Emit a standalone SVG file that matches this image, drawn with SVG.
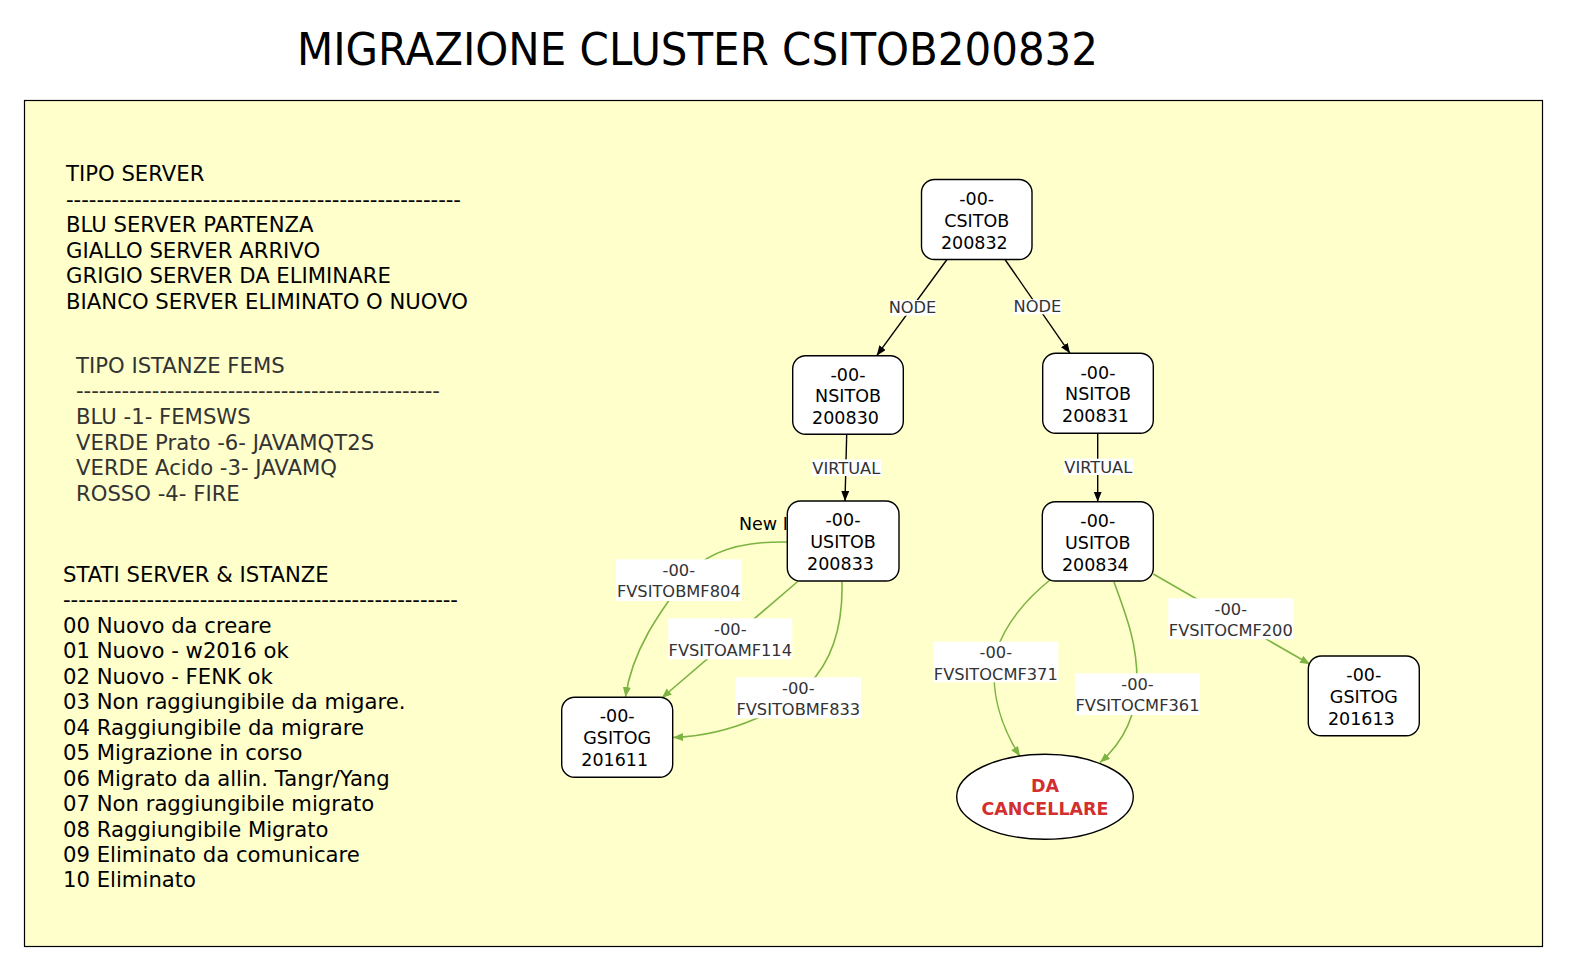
<svg xmlns="http://www.w3.org/2000/svg" width="1572" height="973" viewBox="0 0 1572 973">
<style>
text{font-family:"DejaVu Sans","Liberation Sans",sans-serif}
.leg{font-size:21.2px;fill:#000}
.leg2{font-size:21.2px;fill:#333}
.nt{font-size:17.5px;fill:#000;text-anchor:middle}
.el{font-size:16.25px;fill:#333;text-anchor:middle}
.node{fill:#fff;stroke:#000;stroke-width:1.4}
.lbg{fill:#fff;stroke:none}
.eb{fill:none;stroke:#000;stroke-width:1.4}
.eg{fill:none;stroke:#7cb342;stroke-width:1.6}
</style>
<defs>
<marker id="ab" markerUnits="userSpaceOnUse" markerWidth="12" markerHeight="10" refX="10" refY="4" orient="auto"><path d="M0,0 L10,4 L0,8 z" fill="#000"/></marker>
<marker id="ag" markerUnits="userSpaceOnUse" markerWidth="12" markerHeight="10" refX="10" refY="4" orient="auto"><path d="M0,0 L10,4 L0,8 z" fill="#7cb342"/></marker>
</defs>
<rect x="0" y="0" width="1572" height="973" fill="#fff"/>
<text x="297" y="65" font-size="45" textLength="801" lengthAdjust="spacingAndGlyphs">MIGRAZIONE CLUSTER CSITOB200832</text>
<rect id="cluster" x="24.5" y="100.5" width="1518" height="846" fill="#ffffcc" stroke="#000" stroke-width="1.2"/>
<g id="legend">
<text class="leg" x="66" y="181">TIPO SERVER</text>
<text class="leg" x="66" y="206.5" textLength="395" lengthAdjust="spacing">----------------------------------------------------</text>
<text class="leg" x="66" y="232">BLU SERVER PARTENZA</text>
<text class="leg" x="66" y="257.5">GIALLO SERVER ARRIVO</text>
<text class="leg" x="66" y="283">GRIGIO SERVER DA ELIMINARE</text>
<text class="leg" x="66" y="308.5">BIANCO SERVER ELIMINATO O NUOVO</text>
<text class="leg2" x="76" y="372.5">TIPO ISTANZE FEMS</text>
<text class="leg2" x="76" y="398" textLength="364" lengthAdjust="spacing">------------------------------------------------</text>
<text class="leg2" x="76" y="424">BLU -1- FEMSWS</text>
<text class="leg2" x="76" y="449.5">VERDE Prato -6- JAVAMQT2S</text>
<text class="leg2" x="76" y="475">VERDE Acido -3- JAVAMQ</text>
<text class="leg2" x="76" y="500.5">ROSSO -4- FIRE</text>
<text class="leg" x="63" y="581.5">STATI SERVER &amp; ISTANZE</text>
<text class="leg" x="63" y="607" textLength="395" lengthAdjust="spacing">----------------------------------------------------</text>
<text class="leg" x="63" y="632.5">00 Nuovo da creare</text>
<text class="leg" x="63" y="658">01 Nuovo - w2016 ok</text>
<text class="leg" x="63" y="683.5">02 Nuovo - FENK ok</text>
<text class="leg" x="63" y="709">03 Non raggiungibile da migare.</text>
<text class="leg" x="63" y="734.5">04 Raggiungibile da migrare</text>
<text class="leg" x="63" y="760">05 Migrazione in corso</text>
<text class="leg" x="63" y="785.5">06 Migrato da allin. Tangr/Yang</text>
<text class="leg" x="63" y="811">07 Non raggiungibile migrato</text>
<text class="leg" x="63" y="836.5">08 Raggiungibile Migrato</text>
<text class="leg" x="63" y="862">09 Eliminato da comunicare</text>
<text class="leg" x="63" y="887">10 Eliminato</text>
</g>
<g id="connectors">
<path class="eb" d="M947,259.5 L876.7,355.7" marker-end="url(#ab)"/>
<path class="eb" d="M1005,259.5 L1070,353.3" marker-end="url(#ab)"/>
<path class="eb" d="M846.7,434.3 L845,501" marker-end="url(#ab)"/>
<path class="eb" d="M1097.7,433.3 L1097.7,501.7" marker-end="url(#ab)"/>
<path class="eg" d="M787,542 C740,541 705,552 685,578 C 660,612 632,650 625.5,697" marker-end="url(#ag)"/>
<path class="eg" d="M798.3,581 L661.7,698" marker-end="url(#ag)"/>
<path class="eg" d="M842,582 C843,625 833,660 808,685 C 785,708 735,735 673,737.5" marker-end="url(#ag)"/>
<path class="eg" d="M1050,580 C1025,600 1005,625 997,650 C 988,690 1002,728 1020,756.5" marker-end="url(#ag)"/>
<path class="eg" d="M1114,582 C1128,620 1137,645 1137,680 C 1137,720 1120,745 1100,762.5" marker-end="url(#ag)"/>
<path class="eg" d="M1153.3,574 L1310,664.3" marker-end="url(#ag)"/>
<g id="edge-labels">
<rect class="lbg" x="889" y="300" width="47" height="15.7"/>
<text class="el" x="912.5" y="312.5">NODE</text>
<rect class="lbg" x="1013.7" y="299.3" width="47.3" height="15"/>
<text class="el" x="1037.4" y="311.8">NODE</text>
<rect class="lbg" x="811.7" y="459.3" width="69.3" height="16.7"/>
<text class="el" x="846.3" y="473.5">VIRTUAL</text>
<rect class="lbg" x="1063.3" y="458.7" width="70" height="16.3"/>
<text class="el" x="1098.3" y="473">VIRTUAL</text>
<rect class="lbg" x="616" y="559.3" width="125.7" height="41.7"/>
<text class="el" x="678.8" y="576">-00-</text>
<text class="el" x="678.8" y="597.3">FVSITOBMF804</text>
<rect class="lbg" x="668.3" y="618.3" width="124" height="41"/>
<text class="el" x="730.3" y="635">-00-</text>
<text class="el" x="730.3" y="656.3">FVSITOAMF114</text>
<rect class="lbg" x="735.7" y="677.3" width="125.3" height="41"/>
<text class="el" x="798.3" y="694">-00-</text>
<text class="el" x="798.3" y="715.3">FVSITOBMF833</text>
<rect class="lbg" x="933.3" y="641.7" width="125" height="40.6"/>
<text class="el" x="995.8" y="658.4">-00-</text>
<text class="el" x="995.8" y="679.7">FVSITOCMF371</text>
<rect class="lbg" x="1075" y="673.3" width="125" height="41.7"/>
<text class="el" x="1137.5" y="690">-00-</text>
<text class="el" x="1137.5" y="711.3">FVSITOCMF361</text>
<rect class="lbg" x="1168.3" y="598.3" width="125" height="41"/>
<text class="el" x="1230.8" y="615">-00-</text>
<text class="el" x="1230.8" y="636.3">FVSITOCMF200</text>
</g>
</g>
<text x="739" y="530" font-size="17.5" fill="#000">New I</text>
<g id="n_CSITOB200832">
<rect class="node" x="921.5" y="179.5" width="110.5" height="80" rx="13"/>
<text class="nt" x="976.7" y="205">-00-</text>
<text class="nt" x="976.7" y="226.5">CSITOB</text>
<text class="nt" x="974.3" y="249">200832</text>
</g>
<g id="n_NSITOB200830">
<rect class="node" x="792.7" y="355.7" width="110.6" height="78.6" rx="13"/>
<text class="nt" x="848" y="380.5">-00-</text>
<text class="nt" x="848" y="402">NSITOB</text>
<text class="nt" x="845.5" y="423.5">200830</text>
</g>
<g id="n_NSITOB200831">
<rect class="node" x="1042.7" y="353.3" width="110.6" height="80" rx="13"/>
<text class="nt" x="1098" y="378.5">-00-</text>
<text class="nt" x="1098" y="400">NSITOB</text>
<text class="nt" x="1095.5" y="422">200831</text>
</g>
<g id="n_USITOB200833">
<rect class="node" x="787.3" y="501" width="111.7" height="80" rx="13"/>
<text class="nt" x="843" y="526">-00-</text>
<text class="nt" x="843" y="548">USITOB</text>
<text class="nt" x="840.5" y="570">200833</text>
</g>
<g id="n_USITOB200834">
<rect class="node" x="1042.3" y="501.7" width="111" height="79.3" rx="13"/>
<text class="nt" x="1097.8" y="526.5">-00-</text>
<text class="nt" x="1097.8" y="548.5">USITOB</text>
<text class="nt" x="1095.3" y="570.5">200834</text>
</g>
<g id="n_GSITOG201611">
<rect class="node" x="561.7" y="697.3" width="111" height="80" rx="13"/>
<text class="nt" x="617.2" y="722.3">-00-</text>
<text class="nt" x="617.2" y="744.3">GSITOG</text>
<text class="nt" x="614.7" y="766.3">201611</text>
</g>
<g id="n_GSITOG201613">
<rect class="node" x="1308.3" y="656" width="111" height="79.7" rx="13"/>
<text class="nt" x="1363.8" y="681">-00-</text>
<text class="nt" x="1363.8" y="703">GSITOG</text>
<text class="nt" x="1361.3" y="725">201613</text>
</g>
<g id="n_DA_CANCELLARE">
<ellipse class="node" cx="1045" cy="796.8" rx="88.3" ry="42.5"/>
<text class="nt" x="1045" y="792" style="fill:#d32f2f;font-weight:bold">DA</text>
<text class="nt" x="1045" y="814.5" style="fill:#d32f2f;font-weight:bold">CANCELLARE</text>
</g>
</svg>
